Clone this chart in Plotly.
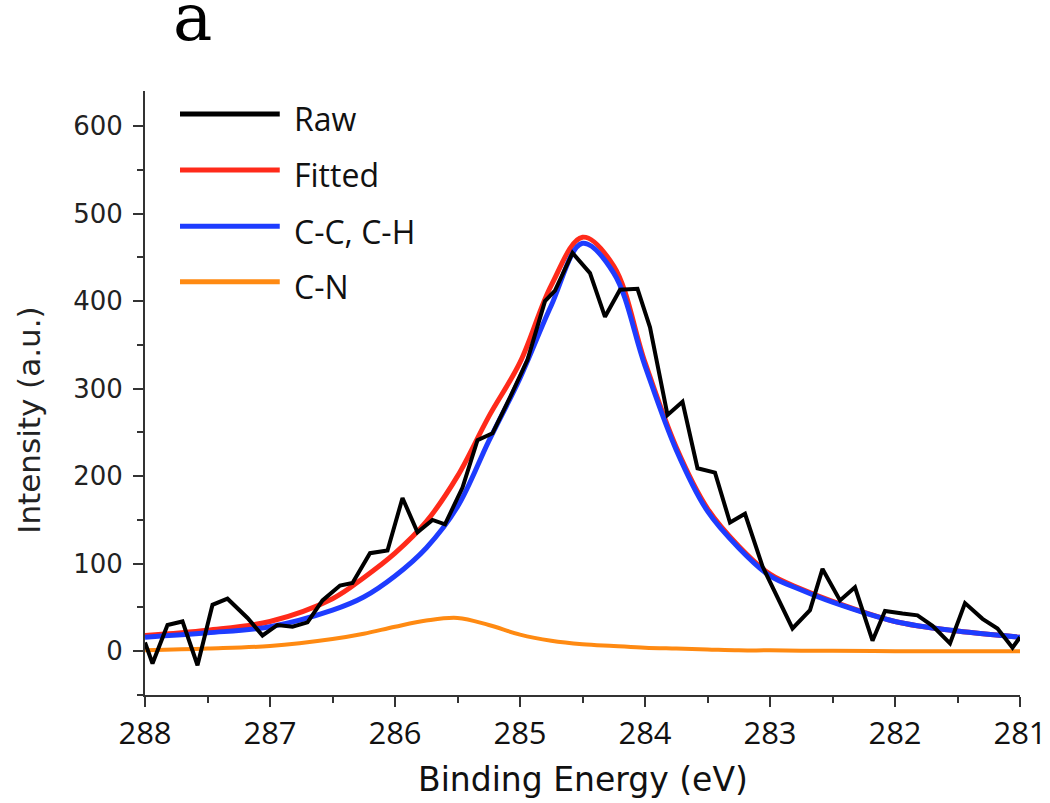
import plotly.graph_objects as go

# Raw spectrum
raw_x = [288.00, 287.94, 287.82, 287.70, 287.58, 287.46, 287.34, 287.18, 287.06, 286.94,
         286.82, 286.70, 286.58, 286.44, 286.34, 286.20, 286.06, 285.94, 285.82, 285.70,
         285.60, 285.46, 285.34, 285.22, 285.08, 284.94, 284.80, 284.72, 284.58, 284.44,
         284.32, 284.20, 284.06, 283.96, 283.82, 283.70, 283.58, 283.44, 283.32, 283.20,
         283.06, 282.82, 282.68, 282.58, 282.44, 282.32, 282.18, 282.08, 281.94, 281.82,
         281.70, 281.56, 281.44, 281.30, 281.18, 281.06, 281.00]
raw_y = [10, -14, 30, 34, -16, 53, 60, 38, 18, 30,
         28, 33, 58, 75, 78, 112, 115, 175, 136, 150,
         145, 187, 241, 249, 290, 333, 400, 412, 455, 432,
         382, 413, 414, 370, 270, 285, 209, 204, 147, 157,
         97, 26, 47, 94, 58, 73, 12, 46, 43, 41,
         29, 9, 55, 37, 26, 4, 16]

# Fitted curves
fit_x = [288, 287.5, 287, 286.5, 286.25, 286, 285.75, 285.5, 285.25, 285, 284.75, 284.5,
         284.25, 284, 283.75, 283.5, 283.25, 283, 282.75, 282.5, 282, 281.5, 281]
fitted = [18, 24, 34, 60, 84, 112, 148, 200, 268, 330, 418, 473,
          440, 330, 233, 163, 120, 88, 71, 57, 34, 23, 16]
cc_ch = [16, 21, 28, 47, 62, 86, 118, 165, 240, 312, 395, 466,
         432, 326, 230, 160, 118, 86, 70, 56, 34, 23, 16]
c_n = [1, 3, 6, 14, 20, 28, 35, 38, 30, 19, 12, 8,
       6, 4, 3, 2, 1, 1, 0.5, 0.5, 0, 0, 0]

x_ticks = [288, 287, 286, 285, 284, 283, 282, 281]
y_ticks = [0, 100, 200, 300, 400, 500, 600]

legend_names = ["Raw", "Fitted", "C-C, C-H", "C-N"]
legend_colors = ["#000000", "#FF2A1A", "#1E3CFF", "#FF8A12"]

fig = go.Figure()
fig.add_trace(go.Scatter(x=fit_x, y=c_n, mode="lines", name="C-N",
                         line=dict(color=legend_colors[3], width=4, shape="spline")))
fig.add_trace(go.Scatter(x=fit_x, y=fitted, mode="lines", name="Fitted",
                         line=dict(color=legend_colors[1], width=5, shape="spline")))
fig.add_trace(go.Scatter(x=fit_x, y=cc_ch, mode="lines", name="C-C, C-H",
                         line=dict(color=legend_colors[2], width=5, shape="spline")))
fig.add_trace(go.Scatter(x=raw_x, y=raw_y, mode="lines", name="Raw",
                         line=dict(color=legend_colors[0], width=4)))

# Manual legend (long line samples as in the reference)
shapes = []
annotations = []
row_y = [0.962, 0.869, 0.776, 0.684]
for name, col, ry in zip(legend_names, legend_colors, row_y):
    shapes.append(dict(type="line", xref="paper", yref="paper", x0=0.04, x1=0.154,
                       y0=ry, y1=ry, line=dict(color=col, width=5)))
    annotations.append(dict(text=name, xref="paper", yref="paper", x=0.168, y=ry - 0.008,
                            xanchor="left", yanchor="middle", showarrow=False,
                            font=dict(family="Open Sans", size=32, color="#111111")))

annotations.append(dict(text="a", xref="paper", yref="paper", x=0.054, y=1.055,
                        xanchor="center", yanchor="bottom", showarrow=False,
                        font=dict(family="DejaVu Serif", size=66, color="#000000")))
annotations.append(dict(text="Binding Energy (eV)", xref="paper", yref="paper", x=0.5, y=-0.14,
                        xanchor="center", yanchor="middle", showarrow=False,
                        font=dict(family="DejaVu Sans", size=33, color="#111111")))
annotations.append(dict(text="Intensity (a.u.)", xref="paper", yref="paper", x=-0.132, y=0.455,
                        xanchor="center", yanchor="middle", showarrow=False, textangle=-90,
                        font=dict(family="DejaVu Sans", size=31, color="#222222")))

fig.update_layout(
    width=1050, height=803,
    margin=dict(l=145, r=30, t=91, b=108),
    plot_bgcolor="white", paper_bgcolor="white",
    showlegend=False,
    shapes=shapes,
    annotations=annotations,
    xaxis=dict(range=[288, 281], tickvals=x_ticks, ticktext=[str(t) for t in x_ticks],
               automargin=False,
               showgrid=False, zeroline=False, showline=True, linecolor="#333333", linewidth=2,
               ticks="outside", ticklen=10, tickwidth=2, tickcolor="#333333",
               minor=dict(dtick=0.5, ticks="outside", ticklen=6, tickwidth=2, tickcolor="#333333"),
               tickfont=dict(family="Open Sans", size=31, color="#111111")),
    yaxis=dict(range=[-50, 640], tickvals=y_ticks, automargin=False,
               showgrid=False, zeroline=False, showline=True, linecolor="#333333", linewidth=2,
               ticks="outside", ticklen=10, tickwidth=2, tickcolor="#333333",
               ticklabelstandoff=5,
               minor=dict(dtick=50, ticks="outside", ticklen=6, tickwidth=2, tickcolor="#333333"),
               tickfont=dict(family="DejaVu Sans", size=26, color="#222222")),
)

fig.write_html("out.html", config={"displayModeBar": False},
               post_script="document.body.style.margin='0';document.body.style.padding='0';")
